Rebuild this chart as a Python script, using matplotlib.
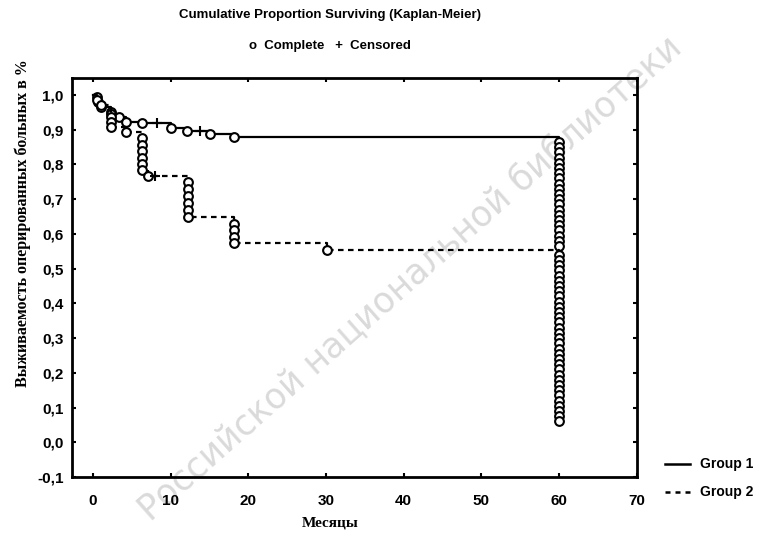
import matplotlib
matplotlib.use("Agg")
import matplotlib.pyplot as plt
from matplotlib.ticker import FuncFormatter

# Group 1 (solid): event times and survival after each event
g1_time = [0.5, 0.7, 1.0, 2.3, 2.3, 3.3, 4.3, 6.3, 10.0, 12.1, 15.1, 18.2]
g1_surv = [0.995, 0.98, 0.966, 0.952, 0.945, 0.937, 0.923, 0.920, 0.906, 0.897, 0.887, 0.880]
# events at 60 months
g1_end = [0.865, 0.850, 0.835, 0.820, 0.805, 0.790, 0.775, 0.760, 0.745, 0.730,
          0.715, 0.700, 0.685, 0.670, 0.655, 0.640, 0.625, 0.610, 0.595, 0.580, 0.565]
g1_cens_t = [8.2, 13.8]
g1_cens_s = [0.920, 0.897]

# Group 2 (dashed)
g2_time = [0.5, 1.0, 2.3, 2.3, 2.3, 4.3, 6.3, 6.3, 6.3, 6.3, 6.3, 6.3, 7.1,
           12.2, 12.2, 12.2, 12.2, 12.2, 12.2, 18.2, 18.2, 18.2, 18.2, 30.1]
g2_surv = [0.985, 0.97, 0.937, 0.923, 0.909, 0.894, 0.875, 0.857, 0.840, 0.820, 0.802, 0.784, 0.767,
           0.750, 0.730, 0.710, 0.690, 0.670, 0.650, 0.630, 0.610, 0.590, 0.573, 0.553]
g2_end = [0.540, 0.525, 0.510, 0.495, 0.480, 0.465, 0.450, 0.435, 0.420, 0.405, 0.390,
          0.375, 0.360, 0.345, 0.330, 0.315, 0.300, 0.285, 0.270, 0.255, 0.240, 0.225,
          0.210, 0.195, 0.180, 0.165, 0.150, 0.135, 0.120, 0.105, 0.090, 0.075, 0.060]
g2_cens_t = [8.0]
g2_cens_s = [0.767]

end_time = 60
xticks = [0, 10, 20, 30, 40, 50, 60, 70]
yticks = [-0.1, 0.0, 0.1, 0.2, 0.3, 0.4, 0.5, 0.6, 0.7, 0.8, 0.9, 1.0]

narrow = ['Liberation Sans Narrow', 'Liberation Sans', 'DejaVu Sans']
serif = ['Liberation Serif', 'DejaVu Serif']

fig = plt.figure(figsize=(7.62, 5.38), dpi=100)
ax = fig.add_axes([0.0945, 0.1134, 0.741, 0.7416])
ax.set_facecolor('none')

# watermark of the scan
fig.text(150 / 762, 1 - 522 / 538, "Российской национальной библиотеки", rotation=41.5,
         rotation_mode='anchor', ha='left', va='baseline',
         fontsize=25, color='#dadada', family=['DejaVu Sans'], zorder=-5)

def draw_group(times, survs, end_vals, ls):
    xs = [0] + list(times) + [end_time] * len(end_vals)
    ys = [1.0] + list(survs) + list(end_vals)
    ax.step(xs, ys, where='post', color='black', lw=1.6, ls=ls)
    ax.plot(list(times) + [end_time] * len(end_vals), list(survs) + list(end_vals),
            'o', mfc='white', mec='black', ms=6.3, mew=1.5)

draw_group(g1_time, g1_surv, g1_end, '-')
draw_group(g2_time, g2_surv, g2_end, (0, (2.5, 2)))
ax.plot(g1_cens_t, g1_cens_s, '+', color='black', ms=7, mew=1.5)
ax.plot(g2_cens_t, g2_cens_s, '+', color='black', ms=7, mew=1.5)

ax.set_xlim(-2.7, 70)
ax.set_ylim(-0.1, 1.049)
ax.set_xticks(xticks)
ax.set_yticks(yticks)
ax.yaxis.set_major_formatter(FuncFormatter(lambda v, p: f"{v:.1f}".replace('.', ',').replace('-0,0', '0,0')))
for lbl in ax.get_xticklabels() + ax.get_yticklabels():
    lbl.set_family(narrow)
    lbl.set_fontweight('bold')
    lbl.set_fontsize(11)
ax.tick_params(direction='in', length=3, width=1.5, right=True, top=True)
ax.tick_params(axis='x', pad=12)
ax.tick_params(axis='y', pad=6)
for s in ax.spines.values():
    s.set_linewidth(2)

fig.text(0.433, 0.972, "Cumulative Proportion Surviving (Kaplan-Meier)", ha='center', va='center',
         fontsize=9.5, fontweight='bold', family=narrow)
fig.text(0.433, 0.914, "o  Complete   +  Censored", ha='center', va='center',
         fontsize=9.5, fontweight='bold', family=narrow)

fig.text(0.03, 1 - 223 / 538, "Выживаемость оперированных больных в %", rotation=90,
         ha='center', va='center', fontsize=11.5, fontweight='bold', family=serif)
fig.text(0.433, 1 - 523 / 538, "Месяцы", ha='center', va='center',
         fontsize=11, fontweight='bold', family=serif)

# legend
fig.add_artist(plt.Line2D([665 / 762, 690 / 762], [1 - 464 / 538] * 2, color='black', lw=1.8))
fig.add_artist(plt.Line2D([665 / 762, 690 / 762], [1 - 492 / 538] * 2, color='black', lw=1.8,
                          ls=(0, (2, 2))))
fig.text(700 / 762, 1 - 464 / 538, "Group 1", va='center', fontsize=10, fontweight='bold', family=narrow)
fig.text(700 / 762, 1 - 492 / 538, "Group 2", va='center', fontsize=10, fontweight='bold', family=narrow)

fig.savefig("out.png", dpi=100)
